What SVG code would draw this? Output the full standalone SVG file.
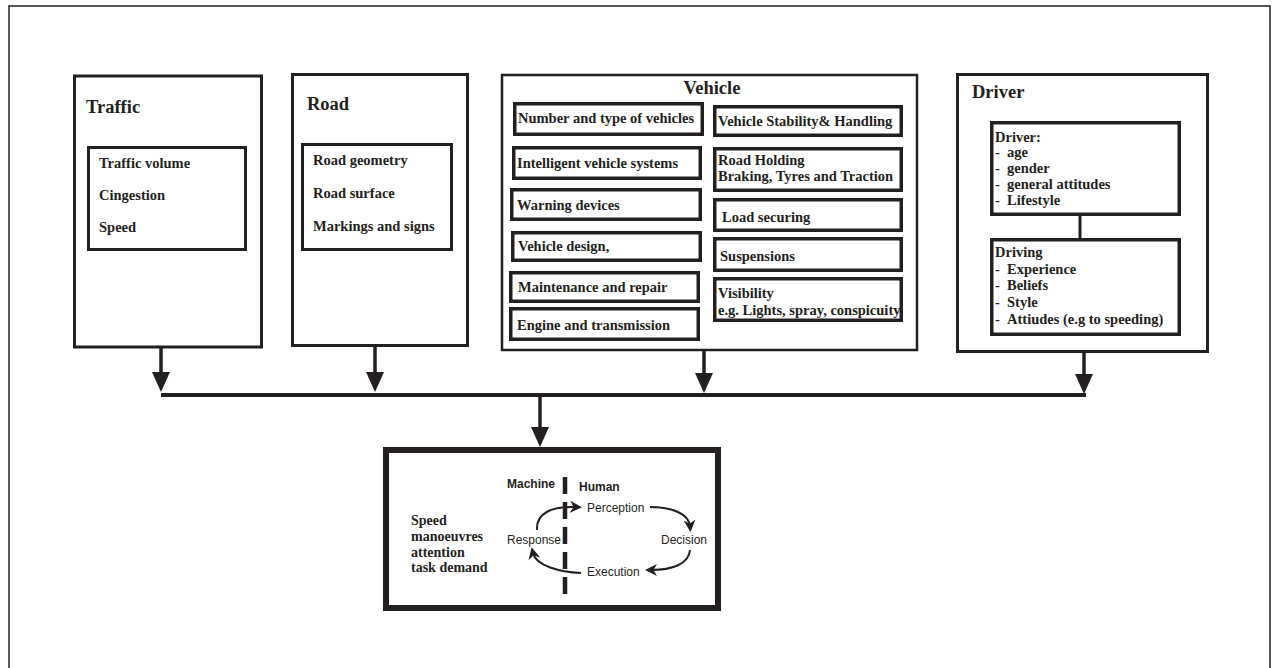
<svg xmlns="http://www.w3.org/2000/svg" width="1276" height="668" viewBox="0 0 1276 668">
<style>
  .frame{fill:none;stroke:#231f20;stroke-width:1.5}
  .box{fill:#fff;stroke:#231f20;stroke-width:3}
  .vbox{fill:#fff;stroke:#231f20;stroke-width:2.5}
  .item{fill:#fff;stroke:#231f20;stroke-width:3.5}
  .title{font-family:"Liberation Serif","Times New Roman",serif;font-weight:bold;font-size:18.5px;fill:#231f20}
  .t{font-family:"Liberation Serif","Times New Roman",serif;font-weight:bold;font-size:14.5px;fill:#231f20}
  .s{font-family:"Liberation Sans",Arial,sans-serif;font-size:12px;fill:#231f20}
  .sb{font-family:"Liberation Sans",Arial,sans-serif;font-size:12px;font-weight:bold;fill:#231f20}
  .conn{fill:none;stroke:#231f20;stroke-width:3.5}
  .cyc{fill:none;stroke:#231f20;stroke-width:2}
</style>
<defs>
  <marker id="big" markerUnits="userSpaceOnUse" markerWidth="20" markerHeight="18" viewBox="0 0 20 18" refX="12" refY="9" orient="auto">
    <path d="M0,0 L20,9 L0,18 Z" fill="#231f20"/>
  </marker>
  <marker id="small" markerUnits="userSpaceOnUse" markerWidth="12" markerHeight="12" viewBox="0 0 10 10" refX="5" refY="5" orient="auto">
    <path d="M0,0 L10,5 L0,10 L3,5 Z" fill="#231f20"/>
  </marker>
</defs>
<rect width="1276" height="668" fill="#fff"/>
<path class="frame" d="M9,668 V6 H1270 V668"/>

<g id="traffic">
  <rect class="box" x="74.5" y="76" width="187" height="271"/>
  <text class="title" x="86" y="113">Traffic</text>
  <rect class="box" x="88.5" y="147.5" width="157" height="102"/>
  <text class="t" x="99" y="168">Traffic volume</text>
  <text class="t" x="99" y="200">Cingestion</text>
  <text class="t" x="99" y="232">Speed</text>
</g>

<g id="road">
  <rect class="box" x="292.5" y="74.5" width="175" height="271"/>
  <text class="title" x="307" y="110">Road</text>
  <rect class="box" x="302.5" y="144.5" width="149" height="105"/>
  <text class="t" x="313" y="165">Road geometry</text>
  <text class="t" x="313" y="198">Road surface</text>
  <text class="t" x="313" y="231">Markings and signs</text>
</g>

<g id="vehicle">
  <rect class="vbox" x="502" y="75" width="415" height="275"/>
  <text class="title" x="712" y="94" text-anchor="middle">Vehicle</text>
  <rect class="item" x="514.75" y="103.75" width="187.5" height="30.5"/>
  <text class="t" x="518" y="123">Number and type of vehicles</text>
  <rect class="item" x="513.75" y="147.75" width="186.5" height="30.5"/>
  <text class="t" x="517" y="168">Intelligent vehicle systems</text>
  <rect class="item" x="511.75" y="189.75" width="188.5" height="29.5"/>
  <text class="t" x="517" y="210">Warning devices</text>
  <rect class="item" x="512.75" y="232.75" width="187.5" height="27.5"/>
  <text class="t" x="518" y="251">Vehicle design,</text>
  <rect class="item" x="510.75" y="272.75" width="187.5" height="28.5"/>
  <text class="t" x="518" y="292">Maintenance and repair</text>
  <rect class="item" x="510.75" y="308.75" width="187.5" height="30.5"/>
  <text class="t" x="517" y="330">Engine and transmission</text>

  <rect class="item" x="714.75" y="106.75" width="186.5" height="28.5"/>
  <text class="t" x="718" y="126">Vehicle Stability&amp; Handling</text>
  <rect class="item" x="714.75" y="148.75" width="186.5" height="41.5"/>
  <text class="t" x="718" y="165">Road Holding</text>
  <text class="t" x="718" y="181">Braking, Tyres and Traction</text>
  <rect class="item" x="714.75" y="199.75" width="186.5" height="30.5"/>
  <text class="t" x="722" y="222">Load securing</text>
  <rect class="item" x="714.75" y="238.75" width="186.5" height="31.5"/>
  <text class="t" x="720" y="261">Suspensions</text>
  <rect class="item" x="714.75" y="278.75" width="186.5" height="41.5"/>
  <text class="t" x="718" y="298">Visibility</text>
  <text class="t" x="718" y="315">e.g. Lights, spray, conspicuity</text>
</g>

<g id="driver">
  <rect class="box" x="957.5" y="74.5" width="250" height="277"/>
  <text class="title" x="972" y="98">Driver</text>
  <rect class="item" x="991.75" y="122.75" width="187.5" height="91.5"/>
  <text class="t" x="995" y="142">Driver:</text>
  <text class="t" y="157"><tspan x="995">-</tspan><tspan x="1007">age</tspan></text>
  <text class="t" y="173"><tspan x="995">-</tspan><tspan x="1007">gender</tspan></text>
  <text class="t" y="189"><tspan x="995">-</tspan><tspan x="1007">general attitudes</tspan></text>
  <text class="t" y="205"><tspan x="995">-</tspan><tspan x="1007">Lifestyle</tspan></text>
  <line x1="1080" y1="216" x2="1080" y2="238" stroke="#231f20" stroke-width="3"/>
  <rect class="item" x="991.75" y="239.75" width="187.5" height="94.5"/>
  <text class="t" x="995" y="257">Driving</text>
  <text class="t" y="274"><tspan x="995">-</tspan><tspan x="1007">Experience</tspan></text>
  <text class="t" y="290"><tspan x="995">-</tspan><tspan x="1007">Beliefs</tspan></text>
  <text class="t" y="307"><tspan x="995">-</tspan><tspan x="1007">Style</tspan></text>
  <text class="t" y="324"><tspan x="995">-</tspan><tspan x="1007">Attiudes (e.g to speeding)</tspan></text>
</g>

<g id="connectors">
  <line class="conn" x1="161" y1="348" x2="161" y2="384" marker-end="url(#big)"/>
  <line class="conn" x1="375" y1="347" x2="375" y2="384" marker-end="url(#big)"/>
  <line class="conn" x1="704" y1="351" x2="704" y2="385" marker-end="url(#big)"/>
  <line class="conn" x1="1084" y1="353" x2="1084" y2="386" marker-end="url(#big)"/>
  <line x1="161" y1="395" x2="1086" y2="395" stroke="#231f20" stroke-width="4"/>
  <line class="conn" x1="540" y1="397" x2="540" y2="439" marker-end="url(#big)"/>
</g>

<g id="task">
  <rect x="386" y="450" width="332" height="158" fill="#fff" stroke="#231f20" stroke-width="6"/>
  <text class="t" x="411" y="525" style="font-size:14px">Speed</text>
  <text class="t" x="411" y="541" style="font-size:14px">manoeuvres</text>
  <text class="t" x="411" y="557" style="font-size:14px">attention</text>
  <text class="t" x="411" y="572" style="font-size:14px">task demand</text>
  <line x1="565" y1="477" x2="565" y2="594" stroke="#231f20" stroke-width="4.5" stroke-dasharray="17 8"/>
  <text class="sb" x="507" y="488">Machine</text>
  <text class="sb" x="579" y="491">Human</text>
  <text class="s" x="587" y="512">Perception</text>
  <text class="s" x="661" y="544">Decision</text>
  <text class="s" x="587" y="576">Execution</text>
  <text class="s" x="507" y="544">Response</text>
  <path class="cyc" d="M537,530 C536,513 552,506 576,507" marker-end="url(#small)"/>
  <path class="cyc" d="M650,507 C672,507 689,514 690,526" marker-end="url(#small)"/>
  <path class="cyc" d="M690,550 C689,564 672,570 651,570" marker-end="url(#small)"/>
  <path class="cyc" d="M581,573 C560,572 536,566 533,553" marker-end="url(#small)"/>
</g>
</svg>
